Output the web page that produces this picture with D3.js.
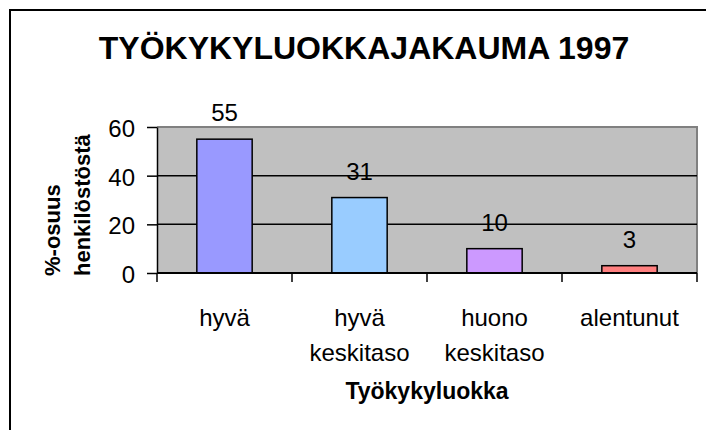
<!DOCTYPE html>
<html>
<head>
<meta charset="utf-8">
<script src="https://cdn.jsdelivr.net/npm/d3@7"></script>
<style>
body { margin: 0; background: #fff; }
svg { display: block; font-family: "Liberation Sans", Arial, sans-serif; }
</style>
</head>
<body>
<svg id="chart" width="706" height="430"></svg>
<script>
const categories = [["hyvä"], ["hyvä", "keskitaso"], ["huono", "keskitaso"], ["alentunut"]]
const values = [55, 31, 10, 3]
const barColors = ["#9999ff", "#99ccff", "#cc99ff", "#ff8080"]
const yTicks = [0, 20, 40, 60]
const title = "TYÖKYKYLUOKKAJAKAUMA 1997"
const xTitle = "Työkykyluokka"
const yTitle = ["%-osuus", "henkilöstöstä"]

const svg = d3.select("#chart")
const plot = { left: 157, right: 697, top: 127, bottom: 273 }
const idx = categories.map((d, i) => i)

const x = d3.scaleBand()
    .domain(idx)
    .range([plot.left, plot.right])
    .paddingInner(0.59)
    .paddingOuter(0.295)

const y = d3.scaleLinear()
    .domain([0, 60])
    .range([plot.bottom, plot.top])

// outer frame, only top and left edge visible
svg.append("path")
    .attr("d", "M10,430V10H706")
    .attr("fill", "none")
    .attr("stroke", "#000")
    .attr("stroke-width", 2)

svg.append("text")
    .attr("x", 364)
    .attr("y", 59)
    .attr("text-anchor", "middle")
    .attr("font-size", 32)
    .attr("font-weight", "bold")
    .text(title)

// plot background
svg.append("rect")
    .attr("x", plot.left)
    .attr("y", plot.top)
    .attr("width", plot.right - plot.left)
    .attr("height", plot.bottom - plot.top)
    .attr("fill", "#c0c0c0")

svg.append("path")
    .attr("d", `M${plot.left},${plot.top}H${plot.right}V${plot.bottom}`)
    .attr("fill", "none")
    .attr("stroke", "#808080")
    .attr("stroke-width", 2)

svg.append("g")
    .selectAll("line")
    .data(yTicks.filter(d => d > 0 && d < 60))
    .join("line")
    .attr("x1", plot.left)
    .attr("x2", plot.right)
    .attr("y1", d => y(d))
    .attr("y2", d => y(d))
    .attr("stroke", "#000")
    .attr("stroke-width", 1.5)

svg.append("g")
    .selectAll("rect")
    .data(values)
    .join("rect")
    .attr("x", (d, i) => x(i))
    .attr("y", d => y(d))
    .attr("width", x.bandwidth())
    .attr("height", d => y(0) - y(d))
    .attr("fill", (d, i) => barColors[i])
    .attr("stroke", "#000")
    .attr("stroke-width", 1.5)

svg.append("g")
    .selectAll("text")
    .data(values)
    .join("text")
    .attr("x", (d, i) => x(i) + x.bandwidth() / 2)
    .attr("y", d => y(d) - 18)
    .attr("text-anchor", "middle")
    .attr("font-size", 24)
    .text(d => d)

// y axis
const yAxis = svg.append("g")
    .attr("transform", `translate(${plot.left},0)`)
    .call(d3.axisLeft(y).tickValues(yTicks).tickSize(10).tickPadding(12).tickSizeOuter(0))
yAxis.select(".domain").attr("stroke", "#000").attr("stroke-width", 1.5)
yAxis.selectAll(".tick line").attr("stroke", "#000").attr("stroke-width", 1.5)
yAxis.selectAll(".tick text")
    .attr("font-size", 24)
    .attr("font-family", "Liberation Sans, Arial, sans-serif")
    .attr("fill", "#000")
    .attr("dy", "0.4em")

// x axis: ticks on category boundaries
const xEdge = d3.scaleLinear().domain([0, categories.length]).range([plot.left, plot.right])
svg.append("line")
    .attr("x1", plot.left)
    .attr("x2", plot.right)
    .attr("y1", plot.bottom)
    .attr("y2", plot.bottom)
    .attr("stroke", "#000")
    .attr("stroke-width", 2)

svg.append("g")
    .selectAll("line")
    .data(d3.range(categories.length + 1))
    .join("line")
    .attr("x1", d => xEdge(d))
    .attr("x2", d => xEdge(d))
    .attr("y1", plot.bottom)
    .attr("y2", plot.bottom + 9)
    .attr("stroke", "#000")
    .attr("stroke-width", 1.5)

svg.append("g")
    .selectAll("text")
    .data(categories)
    .join("text")
    .attr("text-anchor", "middle")
    .attr("font-size", 24)
    .each(function(lines, i) {
        d3.select(this).selectAll("tspan")
            .data(lines)
            .join("tspan")
            .attr("x", x(i) + x.bandwidth() / 2)
            .attr("y", (l, j) => 326 + j * 35)
            .text(l => l)
    })

svg.append("text")
    .attr("x", 427)
    .attr("y", 399)
    .attr("text-anchor", "middle")
    .attr("font-size", 23)
    .attr("font-weight", "bold")
    .text(xTitle)

svg.append("g")
    .selectAll("text")
    .data(yTitle)
    .join("text")
    .attr("transform", (d, i) => `translate(${60 + i * 30},276) rotate(-90)`)
    .attr("font-size", 22)
    .attr("font-weight", "bold")
    .text(d => d)
</script>
</body>
</html>
